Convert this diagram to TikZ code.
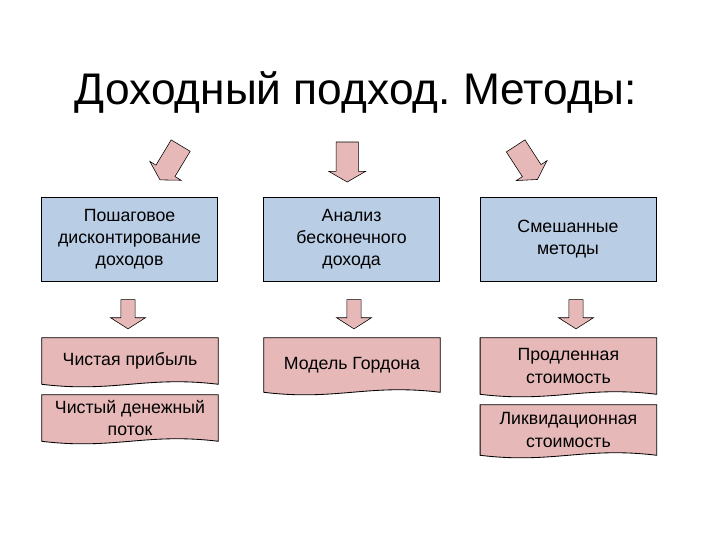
\documentclass[tikz,border=0pt]{standalone}
\usepackage{fontspec}
\setmainfont{Liberation Sans}
\usepackage{tikz}
\usetikzlibrary{shapes.arrows,positioning,calc,backgrounds}
\frenchspacing
\definecolor{methodblue}{RGB}{185,205,229}
\definecolor{resultpink}{RGB}{230,185,184}
\tikzset{
  method/.style={draw,fill=methodblue,minimum width=4.4cm,minimum height=2.1cm,
    align=center,font=\fontsize{12.6}{15.8}\selectfont},
  result/.style={minimum width=4.4cm,align=center,inner sep=2pt,
    font=\fontsize{12.6}{15.8}\selectfont},
  docline/.style={draw,fill=resultpink,line width=0.6pt},
  bigarrow/.style={single arrow,draw,fill=resultpink,minimum height=1.0cm,
    inner sep=0.27cm,single arrow head extend=0.18cm,single arrow tip angle=120},
  smallarrow/.style={single arrow,draw,fill=resultpink,minimum height=0.73cm,
    inner sep=0.17cm,single arrow head extend=0.26cm,single arrow tip angle=115}
}
\begin{document}
\begin{tikzpicture}
  \useasboundingbox (0,0) rectangle (18,-13.5);
  % title
  \node[anchor=base,font=\fontsize{31.5}{36}\selectfont] (title) at (8.9,-2.6)
    {Доходный подход. Методы:};
  % big arrows
  \node[bigarrow,rotate=-121] (arrowA) at (4.3,-4.0) {};
  \node[bigarrow,rotate=-90] (arrowB) at (8.68,-3.97) {};
  \node[bigarrow,rotate=-57] (arrowC) at (13.12,-4.0) {};
  % methods
  \node[method] (stepwise) at (3.24,-5.975) {Пошаговое\\дисконтирование\\доходов};
  \node[method] (infinite) at (8.79,-5.975) {Анализ\\бесконечного\\дохода};
  \node[method] (mixed) at (14.2,-5.975) {Смешанные\\методы};
  % small arrows
  \node[smallarrow,rotate=-90] (arrowD) at (3.2,-7.8) {};
  \node[smallarrow,rotate=-90] (arrowE) at (8.85,-7.8) {};
  \node[smallarrow,rotate=-90] (arrowF) at (14.4,-7.8) {};
  % results
  \node[result,minimum height=1.15cm] (profit) at (3.25,-9.025) {Чистая прибыль};
  \node[result,minimum height=1.15cm] (cashflow) at (3.25,-10.45) {Чистый денежный\\поток};
  \node[result,minimum height=1.35cm] (gordon) at (8.8,-9.125) {Модель Гордона};
  \node[result,minimum height=1.4cm] (extended) at (14.21,-9.15) {Продленная\\стоимость};
  \node[result,minimum height=1.25cm] (liquid) at (14.21,-10.75) {Ликвидационная\\стоимость};
  \begin{scope}[on background layer]
    \foreach \docname in {profit,cashflow,gordon,extended,liquid}
      \draw[docline] (\docname.north west) -- (\docname.north east) -- (\docname.south east)
        .. controls ($(\docname.south east)+(-1.8,0.22)$) and ($(\docname.south west)+(1.8,-0.22)$)
        .. (\docname.south west) -- cycle;
  \end{scope}
\end{tikzpicture}
\end{document}
